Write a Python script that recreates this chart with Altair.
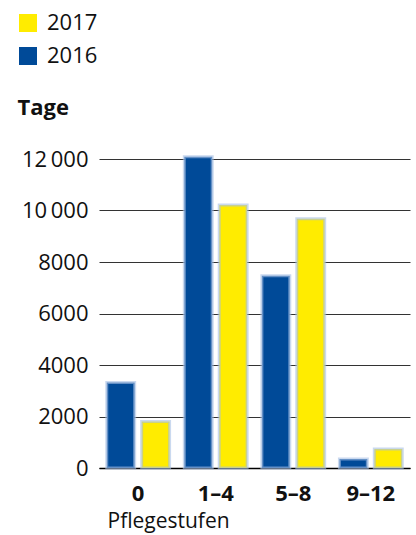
import altair as alt
import pandas as pd

categories = ["0", "1–4", "5–8", "9–12"]
values_2016 = [3320, 12090, 7470, 350]
values_2017 = [1810, 10210, 9680, 740]
years = ["2016", "2017"]

rows = []
for c, a, b in zip(categories, values_2016, values_2017):
    rows.append({"stufe": c, "jahr": "2016", "tage": a})
    rows.append({"stufe": c, "jahr": "2017", "tage": b})
df = pd.DataFrame(rows)

FONT = "Open Sans"
BLUE = "#004a98"
YELLOW = "#ffec00"

color = alt.Color(
    "jahr:N",
    scale=alt.Scale(domain=["2017", "2016"], range=[YELLOW, BLUE]),
    legend=alt.Legend(
        title=None, orient="none", legendX=-82, legendY=-147,
        symbolType="square", symbolSize=324, symbolStrokeWidth=0,
        labelFontSize=22, labelFont=FONT, labelColor="#111",
        labelOffset=8, rowPadding=11, symbolOpacity=1,
    ),
)

bars = alt.Chart(df).mark_bar(
    stroke="#a6bfe4", strokeWidth=3, strokeOpacity=0.6
).encode(
    x=alt.X(
        "stufe:N", sort=categories,
        scale=alt.Scale(paddingInner=0.19, paddingOuter=0.1),
        axis=alt.Axis(
            title="Pflegestufen", labelAngle=0, labelFont=FONT, labelFontSize=22,
            labelFontWeight="bold", labelColor="#111", labelBaseline="alphabetic",
            labelPadding=32, ticks=False, domain=True, domainColor="#000",
            domainWidth=1.5, titleFont=FONT, titleFontSize=21, titleFontWeight="normal",
            titleColor="#111", titleX=8, titleY=59, titleAlign="left",
            titleBaseline="alphabetic", titleAnchor="start",
        ),
    ),
    xOffset=alt.XOffset(
        "jahr:N", sort=years,
        scale=alt.Scale(paddingInner=0.2, paddingOuter=0),
    ),
    y=alt.Y(
        "tage:Q",
        scale=alt.Scale(domain=[0, 12000], nice=False),
        axis=alt.Axis(
            title="Tage", values=[0, 2000, 4000, 6000, 8000, 10000, 12000],
            labelExpr="datum.value >= 10000 ? replace(format(datum.value, ','), ',', '\u2009') : format(datum.value, 'd')",
            labelFont=FONT, labelFontSize=22, labelColor="#111", labelPadding=11,
            ticks=False, domain=False, grid=True, gridColor="#333", gridWidth=1,
            titleAngle=0, titleX=-82, titleY=-45, titleAlign="left",
            titleBaseline="alphabetic", titleFont=FONT, titleFontSize=22,
            titleFontWeight="bold", titleColor="#111",
        ),
    ),
    color=color,
)

chart = bars.properties(
    width=311, height=309,
    autosize=alt.AutoSizeParams(type="none"),
    padding={"left": 99, "top": 159, "right": 6, "bottom": 67},
    background="white",
).configure_view(stroke=None)

chart.save("out.html", embed_options={"renderer": "svg", "actions": False})
